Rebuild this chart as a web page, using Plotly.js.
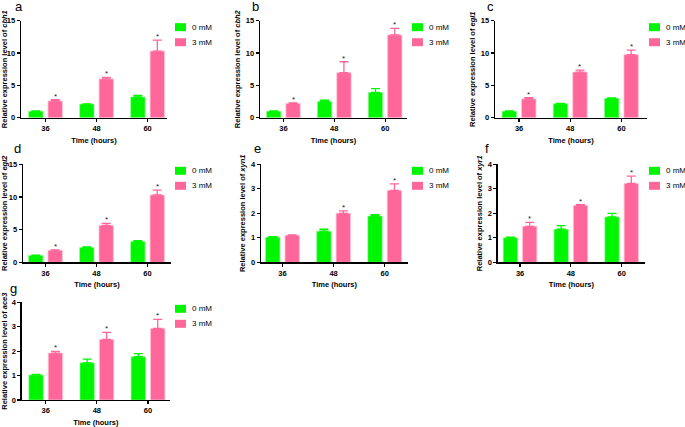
<!DOCTYPE html>
<html>
<head>
<meta charset="utf-8">
<script src="https://cdn.plot.ly/plotly-3.0.1.min.js"></script>
<style>html,body{margin:0;padding:0;background:#fff;}#chart{width:685px;height:427px;}</style>
</head>
<body>
<div id="chart"></div>
<script>
// ---- data ----
const times = ['36', '48', '60'];
const seriesNames = ['0 mM', '3 mM'];
const panelLetters = ['a', 'b', 'c', 'd', 'e', 'f', 'g'];
const genes = ['cbh1', 'cbh2', 'egl1', 'egl2', 'xyn1', 'xyr1', 'ace3'];

const cbh1_0 = [1.0, 2.1, 3.2];    const cbh1_0err = [0.05, 0.05, 0.25];
const cbh1_3 = [2.6, 6.0, 10.3];   const cbh1_3err = [0.2, 0.25, 1.7];
const cbh2_0 = [1.0, 2.5, 3.9];    const cbh2_0err = [0.05, 0.2, 0.6];
const cbh2_3 = [2.2, 6.95, 12.8];  const cbh2_3err = [0.1, 1.7, 1.0];
const egl1_0 = [1.0, 2.15, 3.0];   const egl1_0err = [0.05, 0.05, 0.05];
const egl1_3 = [2.9, 7.05, 9.75];  const egl1_3err = [0.2, 0.3, 0.7];
const egl2_0 = [1.05, 2.25, 3.2];  const egl2_0err = [0.05, 0.1, 0.1];
const egl2_3 = [1.85, 5.65, 10.3]; const egl2_3err = [0.05, 0.3, 0.75];
const xyn1_0 = [1.02, 1.27, 1.89]; const xyn1_0err = [0.03, 0.08, 0.05];
const xyn1_3 = [1.1, 2.0, 2.93];   const xyn1_3err = [0.02, 0.1, 0.27];
const xyr1_0 = [1.0, 1.35, 1.85];  const xyr1_0err = [0.03, 0.15, 0.15];
const xyr1_3 = [1.47, 2.32, 3.22]; const xyr1_3err = [0.16, 0.03, 0.3];
const ace3_0 = [1.02, 1.52, 1.77]; const ace3_0err = [0.03, 0.15, 0.13];
const ace3_3 = [1.92, 2.48, 2.93]; const ace3_3err = [0.07, 0.29, 0.37];

// significance stars on 3 mM bars
const cbh1_star = [true, true, true];
const cbh2_star = [true, true, true];
const egl1_star = [true, true, true];
const egl2_star = [true, true, true];
const xyn1_star = [false, true, true];
const xyr1_star = [true, true, true];
const ace3_star = [true, true, true];

const yTicks15 = [0, 5, 10, 15];
const yTicks4 = [0, 1, 2, 3, 4];

// ---- layout geometry (pixels) ----
const W = 685, H = 427;
const FONT = 'Liberation Sans, Arial, sans-serif';
const GREEN = '#00f500', PINK = '#ff6699';
const panels = [
  {v0: cbh1_0, e0: cbh1_0err, v3: cbh1_3, e3: cbh1_3err, star: cbh1_star, ymax: 15, ticks: yTicks15, px: [21, 167], py: [20.7, 117.7], xr: [-0.48, 2.38], leg: 175, lx: 14, lb: 16},
  {v0: cbh2_0, e0: cbh2_0err, v3: cbh2_3, e3: cbh2_3err, star: cbh2_star, ymax: 15, ticks: yTicks15, px: [260, 407], py: [20.7, 117.7], xr: [-0.46, 2.43], leg: 412, lx: 251, lb: 16},
  {v0: egl1_0, e0: egl1_0err, v3: egl1_3, e3: egl1_3err, star: egl1_star, ymax: 15, ticks: yTicks15, px: [495, 647], py: [20.7, 117.7], xr: [-0.47, 2.5], leg: 649, lx: 486, lb: 16},
  {v0: egl2_0, e0: egl2_0err, v3: egl2_3, e3: egl2_3err, star: egl2_star, ymax: 15, ticks: yTicks15, px: [23, 171], py: [164.3, 262.3], xr: [-0.44, 2.46], leg: 175, lx: 13, lb: 158},
  {v0: xyn1_0, e0: xyn1_0err, v3: xyn1_3, e3: xyn1_3err, star: xyn1_star, ymax: 4, ticks: yTicks4, px: [261, 407.7], py: [164.3, 262.3], xr: [-0.42, 2.45], leg: 412, lx: 253, lb: 158},
  {v0: xyr1_0, e0: xyr1_0err, v3: xyr1_3, e3: xyr1_3err, star: xyr1_star, ymax: 4, ticks: yTicks4, px: [497.7, 645], py: [164.3, 262.3], xr: [-0.44, 2.46], leg: 649, lx: 484, lb: 158},
  {v0: ace3_0, e0: ace3_0err, v3: ace3_3, e3: ace3_3err, star: ace3_star, ymax: 4, ticks: yTicks4, px: [21.7, 170], py: [302.3, 400], xr: [-0.47, 2.43], leg: 175, lx: 9, lb: 298}
];

const BARGAP = 0.24, GROUPGAP = 0.26;
const data = [];
const layout = {
  width: W, height: H,
  margin: {l: 0, r: 0, t: 0, b: 0},
  paper_bgcolor: '#fff', plot_bgcolor: '#fff',
  showlegend: false,
  barmode: 'group', bargap: BARGAP, bargroupgap: GROUPGAP,
  font: {family: FONT, size: 8, color: '#000'},
  annotations: [], shapes: []
};

panels.forEach((p, i) => {
  const n = i === 0 ? '' : String(i + 1);
  const xa = 'x' + n, ya = 'y' + n;
  data.push({
    type: 'bar', name: seriesNames[0], x: times, y: p.v0, xaxis: xa, yaxis: ya,
    marker: {color: GREEN, line: {color: '#8cff8c', width: 0.6}},
    error_y: {type: 'data', array: p.e0, symmetric: false, arrayminus: [0, 0, 0], color: GREEN, thickness: 1.3, width: 4.5}
  });
  data.push({
    type: 'bar', name: seriesNames[1], x: times, y: p.v3, xaxis: xa, yaxis: ya,
    marker: {color: PINK, line: {color: '#ffc2d6', width: 0.8}},
    error_y: {type: 'data', array: p.e3, symmetric: false, arrayminus: [0, 0, 0], color: PINK, thickness: 1.3, width: 4.5}
  });
  const xd = [p.px[0] / W, p.px[1] / W];
  const yd = [1 - p.py[1] / H, 1 - p.py[0] / H];
  layout['xaxis' + n] = {
    domain: xd, anchor: ya, type: 'category', range: p.xr,
    showline: true, linecolor: '#000', linewidth: 1.3, ticks: 'outside', ticklen: 3, tickwidth: 1.2, tickcolor: '#000',
    showgrid: false, zeroline: false, fixedrange: true,
    tickfont: {family: FONT, size: 7.5, color: '#000', weight: 'bold'},
    title: {text: '<b>Time (hours)</b>', font: {family: FONT, size: 7.5, color: '#000'}, standoff: 5}
  };
  layout['yaxis' + n] = {
    domain: yd, anchor: xa, range: [0, p.ymax], tickvals: p.ticks,
    showline: true, linecolor: '#000', linewidth: 1.3, ticks: 'outside', ticklen: 3, tickwidth: 1.2, tickcolor: '#000',
    showgrid: false, zeroline: false, fixedrange: true,
    tickfont: {family: FONT, size: 7.5, color: '#000', weight: 'bold'},
    title: {text: '<b>Relative expression level of <i>' + genes[i] + '</i></b>', font: {family: FONT, size: 7.5, color: '#000'}, standoff: 4}
  };
  // stars above 3 mM bars (pixel offset of second bar in a group)
  const pxPerCat = (p.px[1] - p.px[0]) / (p.xr[1] - p.xr[0]);
  const shift = pxPerCat * (1 - BARGAP) / 4;
  times.forEach((t, k) => {
    if (p.star[k]) {
      layout.annotations.push({
        xref: xa, yref: ya, x: k, y: p.v3[k] + p.e3[k], xshift: shift, yshift: -3,
        text: '*', showarrow: false, yanchor: 'bottom',
        font: {family: FONT, size: 8, color: '#222'}
      });
    }
  });
  // panel letter
  layout.annotations.push({
    xref: 'paper', yref: 'paper', x: (p.lx - 1) / W, y: 1 - p.lb / H,
    text: panelLetters[i], showarrow: false, xanchor: 'left', yanchor: 'bottom',
    font: {family: FONT, size: 13, color: '#000'}
  });
  // legend (drawn)
  [GREEN, PINK].forEach((c, s) => {
    const top = p.py[0] + 2.5 + s * 15;
    layout.shapes.push({
      type: 'rect', xref: 'paper', yref: 'paper', line: {width: 0}, fillcolor: c,
      x0: p.leg / W, x1: (p.leg + 11) / W, y0: 1 - top / H, y1: 1 - (top + 8) / H
    });
    layout.annotations.push({
      xref: 'paper', yref: 'paper', x: (p.leg + 15) / W, y: 1 - (top + 4) / H,
      text: seriesNames[s], showarrow: false, xanchor: 'left', yanchor: 'middle',
      font: {family: FONT, size: 8, color: '#000'}
    });
  });
});

Plotly.newPlot('chart', data, layout, {displayModeBar: false, staticPlot: true});
</script>
</body>
</html>
